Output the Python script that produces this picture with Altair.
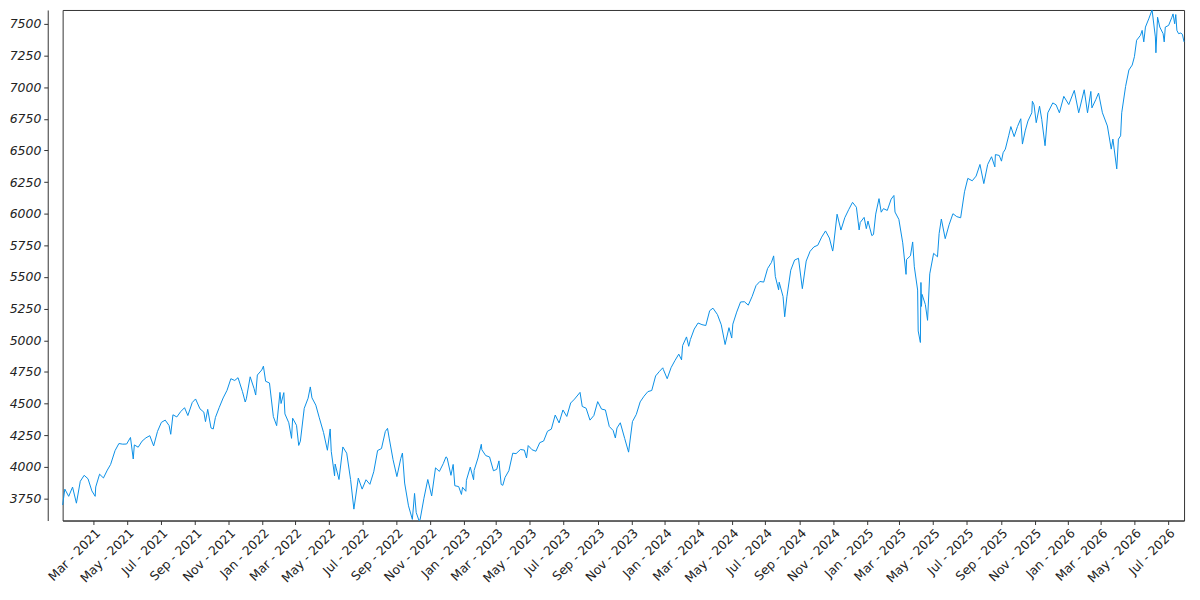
import altair as alt
import pandas as pd

# Daily/weekly closes
sp_2021 = [
    ("2021-01-04", 3700), ("2021-01-08", 3825), ("2021-01-15", 3768), ("2021-01-22", 3841),
    ("2021-01-29", 3714), ("2021-02-05", 3887), ("2021-02-12", 3934), ("2021-02-19", 3907),
    ("2021-02-26", 3811), ("2021-03-04", 3768), ("2021-03-05", 3842), ("2021-03-12", 3943),
    ("2021-03-19", 3913), ("2021-03-26", 3975), ("2021-04-01", 4020), ("2021-04-09", 4129),
    ("2021-04-16", 4185), ("2021-04-23", 4180), ("2021-04-30", 4181), ("2021-05-07", 4233),
    ("2021-05-12", 4063), ("2021-05-14", 4174), ("2021-05-21", 4156), ("2021-05-28", 4204),
    ("2021-06-04", 4230), ("2021-06-11", 4247), ("2021-06-18", 4166), ("2021-06-25", 4281),
    ("2021-07-02", 4352), ("2021-07-09", 4370), ("2021-07-16", 4327), ("2021-07-19", 4258),
    ("2021-07-23", 4412), ("2021-07-30", 4395), ("2021-08-06", 4437), ("2021-08-13", 4468),
    ("2021-08-19", 4406), ("2021-08-27", 4509), ("2021-09-02", 4537), ("2021-09-10", 4459),
    ("2021-09-17", 4433), ("2021-09-20", 4358), ("2021-09-24", 4455), ("2021-09-30", 4308),
    ("2021-10-04", 4300), ("2021-10-08", 4391), ("2021-10-15", 4471), ("2021-10-22", 4545),
    ("2021-10-29", 4605), ("2021-11-05", 4697), ("2021-11-12", 4683), ("2021-11-18", 4705),
    ("2021-11-26", 4595), ("2021-12-01", 4513), ("2021-12-03", 4538), ("2021-12-10", 4712),
    ("2021-12-17", 4620), ("2021-12-20", 4568), ("2021-12-23", 4726), ("2021-12-31", 4766),
]
sp_2022 = [
    ("2022-01-03", 4796), ("2022-01-07", 4677), ("2022-01-14", 4663), ("2022-01-21", 4398),
    ("2022-01-27", 4326), ("2022-02-02", 4589), ("2022-02-04", 4501), ("2022-02-09", 4587),
    ("2022-02-11", 4419), ("2022-02-18", 4349), ("2022-02-23", 4226), ("2022-02-25", 4385),
    ("2022-03-04", 4329), ("2022-03-08", 4170), ("2022-03-11", 4204), ("2022-03-18", 4463),
    ("2022-03-25", 4543), ("2022-03-29", 4632), ("2022-04-01", 4546), ("2022-04-08", 4488),
    ("2022-04-14", 4393), ("2022-04-22", 4272), ("2022-04-29", 4132), ("2022-05-04", 4300),
    ("2022-05-06", 4123), ("2022-05-12", 3930), ("2022-05-13", 4023), ("2022-05-20", 3901),
    ("2022-05-27", 4158), ("2022-06-03", 4109), ("2022-06-10", 3901), ("2022-06-16", 3667),
    ("2022-06-24", 3912), ("2022-07-01", 3825), ("2022-07-08", 3899), ("2022-07-15", 3863),
    ("2022-07-22", 3962), ("2022-07-29", 4130), ("2022-08-05", 4145), ("2022-08-12", 4280),
    ("2022-08-16", 4305), ("2022-08-19", 4228), ("2022-08-26", 4058), ("2022-09-02", 3924),
    ("2022-09-09", 4067), ("2022-09-12", 4110), ("2022-09-16", 3873), ("2022-09-23", 3693),
    ("2022-09-30", 3586), ("2022-10-04", 3791), ("2022-10-07", 3640), ("2022-10-12", 3577),
    ("2022-10-14", 3583), ("2022-10-21", 3753), ("2022-10-28", 3901), ("2022-11-04", 3771),
    ("2022-11-11", 3993), ("2022-11-18", 3965), ("2022-11-25", 4026), ("2022-11-30", 4080),
    ("2022-12-02", 4072), ("2022-12-09", 3934), ("2022-12-13", 4020), ("2022-12-16", 3852),
    ("2022-12-23", 3845), ("2022-12-28", 3783), ("2022-12-30", 3840),
]
sp_2023 = [
    ("2023-01-05", 3808), ("2023-01-06", 3895), ("2023-01-13", 3999), ("2023-01-19", 3899),
    ("2023-01-20", 3973), ("2023-01-27", 4071), ("2023-02-02", 4179), ("2023-02-03", 4136),
    ("2023-02-10", 4090), ("2023-02-17", 4079), ("2023-02-24", 3970), ("2023-03-02", 3981),
    ("2023-03-06", 4048), ("2023-03-10", 3862), ("2023-03-13", 3855), ("2023-03-17", 3917),
    ("2023-03-24", 3971), ("2023-03-31", 4109), ("2023-04-06", 4105), ("2023-04-14", 4138),
    ("2023-04-21", 4133), ("2023-04-25", 4071), ("2023-04-28", 4169), ("2023-05-05", 4136),
    ("2023-05-12", 4124), ("2023-05-19", 4192), ("2023-05-26", 4205), ("2023-06-02", 4282),
    ("2023-06-09", 4299), ("2023-06-16", 4410), ("2023-06-23", 4348), ("2023-06-30", 4450),
    ("2023-07-07", 4399), ("2023-07-14", 4505), ("2023-07-21", 4536), ("2023-07-31", 4589),
    ("2023-08-04", 4478), ("2023-08-11", 4464), ("2023-08-18", 4370), ("2023-08-25", 4406),
    ("2023-09-01", 4516), ("2023-09-08", 4457), ("2023-09-15", 4450), ("2023-09-22", 4320),
    ("2023-09-29", 4288), ("2023-10-03", 4229), ("2023-10-06", 4308), ("2023-10-12", 4349),
    ("2023-10-20", 4224), ("2023-10-27", 4117), ("2023-11-03", 4358), ("2023-11-10", 4415),
    ("2023-11-17", 4514), ("2023-11-24", 4559), ("2023-12-01", 4595), ("2023-12-08", 4604),
    ("2023-12-15", 4719), ("2023-12-22", 4755), ("2023-12-28", 4783), ("2023-12-29", 4770),
]
sp_2024 = [
    ("2024-01-05", 4697), ("2024-01-12", 4784), ("2024-01-19", 4840), ("2024-01-26", 4891),
    ("2024-01-31", 4846), ("2024-02-02", 4959), ("2024-02-09", 5027), ("2024-02-13", 4953),
    ("2024-02-16", 5006), ("2024-02-23", 5089), ("2024-03-01", 5137), ("2024-03-08", 5124),
    ("2024-03-15", 5117), ("2024-03-22", 5234), ("2024-03-28", 5254), ("2024-04-05", 5204),
    ("2024-04-12", 5123), ("2024-04-19", 4967), ("2024-04-26", 5100), ("2024-05-01", 5018),
    ("2024-05-03", 5128), ("2024-05-10", 5223), ("2024-05-17", 5303), ("2024-05-24", 5305),
    ("2024-05-31", 5278), ("2024-06-07", 5347), ("2024-06-14", 5432), ("2024-06-21", 5465),
    ("2024-06-28", 5460), ("2024-07-05", 5567), ("2024-07-12", 5615), ("2024-07-16", 5667),
    ("2024-07-19", 5505), ("2024-07-25", 5399), ("2024-07-26", 5459), ("2024-08-02", 5346),
    ("2024-08-05", 5186), ("2024-08-09", 5344), ("2024-08-16", 5554), ("2024-08-23", 5634),
    ("2024-08-30", 5648), ("2024-09-06", 5408), ("2024-09-13", 5626), ("2024-09-20", 5703),
    ("2024-09-27", 5738), ("2024-10-04", 5751), ("2024-10-11", 5815), ("2024-10-18", 5864),
    ("2024-10-25", 5808), ("2024-10-31", 5705), ("2024-11-01", 5729), ("2024-11-08", 5996),
    ("2024-11-15", 5871), ("2024-11-22", 5969), ("2024-11-29", 6032), ("2024-12-06", 6090),
    ("2024-12-13", 6051), ("2024-12-18", 5872), ("2024-12-20", 5931), ("2024-12-27", 5971),
    ("2024-12-31", 5882),
]
sp_2025 = [
    ("2025-01-03", 5942), ("2025-01-10", 5827), ("2025-01-13", 5836), ("2025-01-17", 5997),
    ("2025-01-23", 6119), ("2025-01-27", 6012), ("2025-01-31", 6040), ("2025-02-07", 6026),
    ("2025-02-14", 6115), ("2025-02-19", 6144), ("2025-02-21", 6013), ("2025-02-28", 5955),
    ("2025-03-07", 5770), ("2025-03-13", 5521), ("2025-03-14", 5639), ("2025-03-21", 5668),
    ("2025-03-25", 5777), ("2025-03-28", 5581), ("2025-04-03", 5397), ("2025-04-04", 5074),
    ("2025-04-08", 4983), ("2025-04-09", 5457), ("2025-04-10", 5268), ("2025-04-11", 5363),
    ("2025-04-17", 5283), ("2025-04-21", 5158), ("2025-04-25", 5525), ("2025-05-02", 5687),
    ("2025-05-09", 5660), ("2025-05-12", 5844), ("2025-05-16", 5958), ("2025-05-23", 5803),
    ("2025-05-30", 5912), ("2025-06-06", 6000), ("2025-06-13", 5977), ("2025-06-20", 5968),
    ("2025-06-27", 6173), ("2025-07-03", 6279), ("2025-07-11", 6260), ("2025-07-18", 6297),
    ("2025-07-25", 6389), ("2025-08-01", 6238), ("2025-08-08", 6389), ("2025-08-15", 6450),
    ("2025-08-21", 6370), ("2025-08-22", 6467), ("2025-08-29", 6460), ("2025-09-02", 6415),
    ("2025-09-05", 6482), ("2025-09-09", 6510), ("2025-09-15", 6615), ("2025-09-19", 6688),
    ("2025-09-25", 6609), ("2025-10-01", 6688), ("2025-10-07", 6750), ("2025-10-10", 6550),
    ("2025-10-15", 6654), ("2025-10-20", 6732), ("2025-10-27", 6797), ("2025-10-28", 6888),
    ("2025-10-31", 6860), ("2025-11-04", 6719), ("2025-11-10", 6849), ("2025-11-14", 6745),
    ("2025-11-20", 6537), ("2025-11-25", 6797), ("2025-12-04", 6875), ("2025-12-10", 6860),
    ("2025-12-16", 6797), ("2025-12-24", 6927),
]
sp_2026 = [
    ("2026-01-02", 6862), ("2026-01-12", 6974), ("2026-01-20", 6797), ("2026-01-30", 6979),
    ("2026-02-05", 6797), ("2026-02-11", 6966), ("2026-02-13", 6836), ("2026-02-20", 6901),
    ("2026-02-25", 6953), ("2026-03-04", 6797), ("2026-03-13", 6693), ("2026-03-20", 6510),
    ("2026-03-23", 6589), ("2026-03-30", 6354), ("2026-04-02", 6589), ("2026-04-06", 6615),
    ("2026-04-08", 6797), ("2026-04-15", 7005), ("2026-04-21", 7135), ("2026-04-27", 7174),
    ("2026-05-01", 7240), ("2026-05-05", 7370), ("2026-05-12", 7409), ("2026-05-15", 7448),
    ("2026-05-18", 7357), ("2026-05-21", 7474), ("2026-05-27", 7539), ("2026-06-02", 7609),
    ("2026-06-08", 7396), ("2026-06-09", 7271), ("2026-06-12", 7552), ("2026-06-16", 7474),
    ("2026-06-22", 7422), ("2026-06-24", 7357), ("2026-06-26", 7474), ("2026-07-02", 7487),
    ("2026-07-08", 7552), ("2026-07-10", 7578), ("2026-07-13", 7500), ("2026-07-15", 7573),
    ("2026-07-17", 7448), ("2026-07-20", 7422), ("2026-07-24", 7427), ("2026-07-27", 7417),
    ("2026-07-30", 7357),
]

y_ticks = [3750, 4000, 4250, 4500, 4750, 5000, 5250, 5500, 5750, 6000,
           6250, 6500, 6750, 7000, 7250, 7500]
y_domain = [3577, 7609]

rows = sp_2021 + sp_2022 + sp_2023 + sp_2024 + sp_2025 + sp_2026
df = pd.DataFrame(rows, columns=["date", "close"])

chart = (
    alt.Chart(df)
    .mark_line(color="#0a8fe6", strokeWidth=1)
    .encode(
        x=alt.X(
            "date:T",
            scale=alt.Scale(nice=False),
            axis=alt.Axis(
                format="%b - %Y",
                tickCount={"interval": "month", "step": 2},
                labelAngle=-45,
                labelOverlap=False,
                labelFlush=False,
                grid=False,
                title=None,
                labelPadding=2,
                labelFontSize=12.5,
            ),
        ),
        y=alt.Y(
            "close:Q",
            scale=alt.Scale(domain=y_domain, nice=False, zero=False),
            axis=alt.Axis(
                values=y_ticks,
                format="d",
                offset=15,
                grid=False,
                title=None,
                labelFontStyle="italic",
                labelPadding=3,
                labelFontSize=12.5,
            ),
        ),
    )
    .properties(
        width=1129,
        height=514,
        autosize=alt.AutoSizeParams(type="none"),
        padding={"left": 55, "top": 0, "right": 8, "bottom": 75},
    )
    .configure_view(stroke="#333333", strokeWidth=1)
    .configure_axis(
        domainColor="#333333",
        tickColor="#333333",
        labelColor="#222222",
        labelFont="DejaVu Sans",
        labelFontSize=12,
        tickSize=4,
    )
)

chart.save("out.html", embed_options={"renderer": "svg", "actions": False})
